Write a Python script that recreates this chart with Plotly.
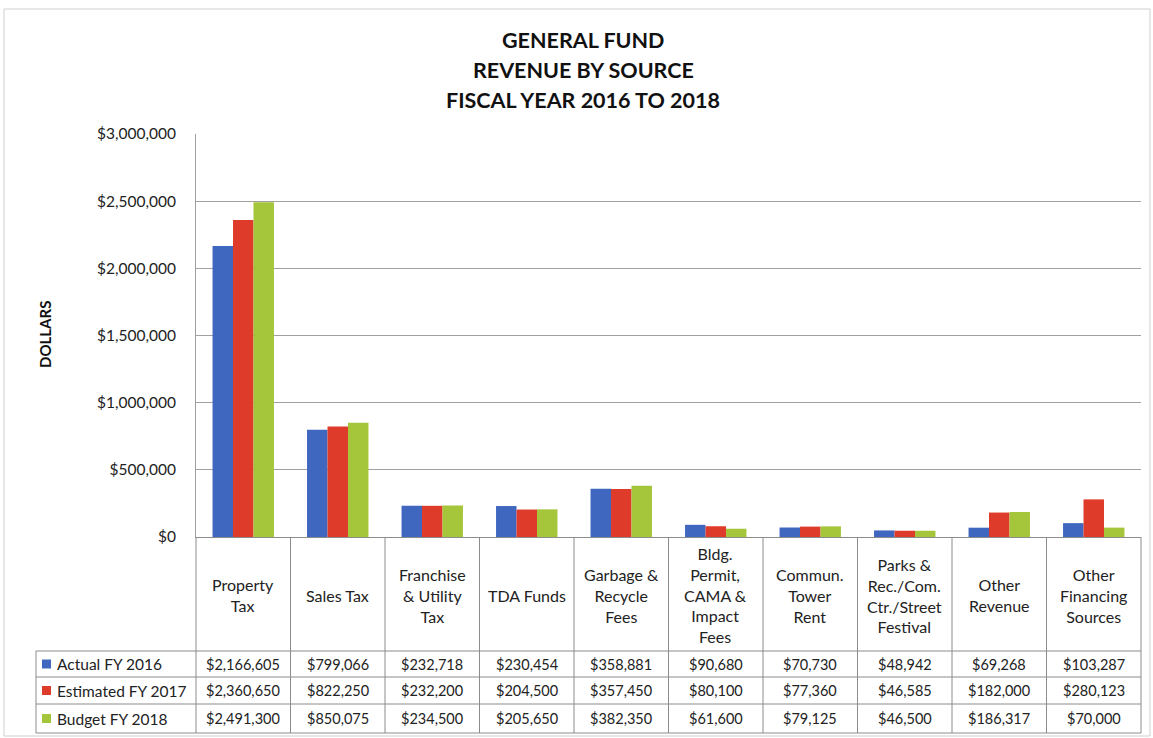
import plotly.graph_objects as go

# ---- data -------------------------------------------------------------
categories = [
    "Property Tax", "Sales Tax", "Franchise & Utility Tax", "TDA Funds",
    "Garbage & Recycle Fees", "Bldg. Permit, CAMA & Impact Fees",
    "Commun. Tower Rent", "Parks & Rec./Com. Ctr./Street Festival",
    "Other Revenue", "Other Financing Sources",
]
category_labels = [
    "Property<br>Tax", "Sales Tax", "Franchise<br>& Utility<br>Tax", "TDA Funds",
    "Garbage &<br>Recycle<br>Fees", "Bldg.<br>Permit,<br>CAMA &<br>Impact<br>Fees",
    "Commun.<br>Tower<br>Rent", "Parks &<br>Rec./Com.<br>Ctr./Street<br>Festival",
    "Other<br>Revenue", "Other<br>Financing<br>Sources",
]
series_names = ["Actual FY 2016", "Estimated FY 2017", "Budget FY 2018"]
actual_2016 = [2166605, 799066, 232718, 230454, 358881, 90680, 70730, 48942, 69268, 103287]
estimated_2017 = [2360650, 822250, 232200, 204500, 357450, 80100, 77360, 46585, 182000, 280123]
budget_2018 = [2491300, 850075, 234500, 205650, 382350, 61600, 79125, 46500, 186317, 70000]
series_values = [actual_2016, estimated_2017, budget_2018]
series_colors = ["#3f67c0", "#de3b2b", "#a5c53a"]
title_lines = ["GENERAL FUND", "REVENUE BY SOURCE", "FISCAL YEAR 2016 TO 2018"]
y_ticks = [0, 500000, 1000000, 1500000, 2000000, 2500000, 3000000]

# ---- layout geometry (pixels) ----------------------------------------
W, H = 1153, 738
L, R, T, B = 196, 12, 134, 201
PW, PH = W - L - R, H - T - B


def px_x(px):
    return (px - L) / PW


def px_y(py):
    return (H - B - py) / PH


FONT = "Lato"
GRID = "#a0a0a0"
TABLE_LINE = "#8c8c8c"
TEXT = "#222"

fig = go.Figure()
for name, vals, col in zip(series_names, series_values, series_colors):
    fig.add_trace(go.Bar(
        x=categories, y=vals, name=name, marker_color=col,
        marker_line_width=0, showlegend=False,
    ))

shapes = []
annotations = []

# outer chart border
shapes.append(dict(type="rect", xref="paper", yref="paper",
                   x0=px_x(4), x1=px_x(1150), y0=px_y(736), y1=px_y(9),
                   line=dict(color="#cfcfcf", width=1), layer="below"))

# data table rows
row_edges = [651, 677, 704, 733]
n = len(categories)
for py in row_edges:
    shapes.append(dict(type="line", xref="paper", yref="paper",
                       x0=px_x(36), x1=1, y0=px_y(py), y1=px_y(py),
                       line=dict(color=TABLE_LINE, width=1)))
# vertical separators between category columns
for i in range(n + 1):
    shapes.append(dict(type="line", xref="x domain", yref="paper",
                       x0=i / n, x1=i / n, y0=0, y1=px_y(row_edges[-1]),
                       line=dict(color=TABLE_LINE, width=1)))
# left edge of the series-name column
shapes.append(dict(type="line", xref="paper", yref="paper",
                   x0=px_x(36), x1=px_x(36), y0=px_y(row_edges[0]), y1=px_y(row_edges[-1]),
                   line=dict(color=TABLE_LINE, width=1)))

# category header cells
for cat, lab in zip(categories, category_labels):
    annotations.append(dict(x=cat, xref="x", y=px_y(595), yref="paper",
                            text=lab, showarrow=False, align="center",
                            font=dict(family=FONT, size=16, color=TEXT),
                            xanchor="center", yanchor="middle"))

# value rows
for r, (name, vals, col) in enumerate(zip(series_names, series_values, series_colors)):
    yc = px_y((row_edges[r] + row_edges[r + 1]) / 2)
    shapes.append(dict(type="rect", xref="paper", yref="paper",
                       x0=px_x(42), x1=px_x(51),
                       y0=yc - 4.5 / PH, y1=yc + 4.5 / PH,
                       fillcolor=col, line=dict(width=0)))
    annotations.append(dict(x=px_x(55), xref="paper", y=yc, yref="paper",
                            text=name, showarrow=False, xanchor="left", yanchor="middle",
                            font=dict(family=FONT, size=15.5, color=TEXT)))
    for cat, v in zip(categories, vals):
        annotations.append(dict(x=cat, xref="x", y=yc, yref="paper",
                                text="${:,}".format(v), showarrow=False,
                                xanchor="center", yanchor="middle",
                                font=dict(family=FONT, size=14.5, color=TEXT)))

# title lines
for k, line in enumerate(title_lines):
    annotations.append(dict(x=px_x(583), xref="paper", y=px_y(40 + 30 * k), yref="paper",
                            text="<b>" + line + "</b>", showarrow=False,
                            xanchor="center", yanchor="middle",
                            font=dict(family=FONT, size=21.5, color="#111")))

# y-axis title
annotations.append(dict(x=px_x(45), xref="paper", y=px_y(335), yref="paper",
                        text="<b>DOLLARS</b>", textangle=-90, showarrow=False,
                        xanchor="center", yanchor="middle",
                        font=dict(family=FONT, size=15, color="#111")))

fig.update_layout(
    width=W, height=H,
    margin=dict(l=L, r=R, t=T, b=B, pad=0),
    paper_bgcolor="white", plot_bgcolor="white",
    barmode="group", bargap=0.35, bargroupgap=0,
    shapes=shapes, annotations=annotations,
    font=dict(family=FONT, size=14, color=TEXT),
)
fig.update_xaxes(showticklabels=False, showgrid=False, showline=True,
                 linecolor=TABLE_LINE, linewidth=1, ticks="", range=[-0.5, n - 0.5])
fig.update_yaxes(range=[0, 3000000], tickvals=y_ticks, tickformat="$,.0f",
                 showgrid=True, gridcolor=GRID, gridwidth=1,
                 showline=True, linecolor=GRID, linewidth=1,
                 ticks="", ticklabelstandoff=16, zeroline=False,
                 tickfont=dict(family=FONT, size=15.5, color=TEXT))

fig.write_html("out.html")
